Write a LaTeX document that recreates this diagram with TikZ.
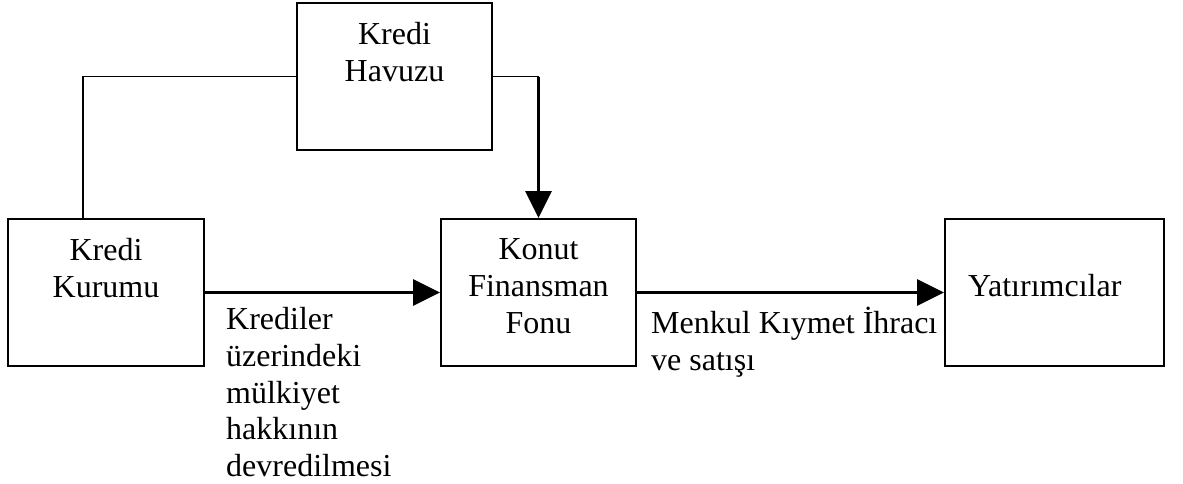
\documentclass[tikz,border=0pt]{standalone}
\usepackage{fontspec}
\setmainfont{Liberation Serif}
\usetikzlibrary{arrows.meta}

\tikzset{
  box/.style={draw=black, line width=2pt, fill=none, rectangle, inner sep=0pt},
  boxtext/.style={inner sep=0pt, align=center, anchor=north,
    font=\fontsize{32}{36.8}\selectfont},
  lbltext/.style={inner sep=0pt, align=left, anchor=north west,
    font=\fontsize{32}{36.8}\selectfont},
  link/.style={line width=1.8pt, line cap=rect},
  flow/.style={line width=3pt, -{Triangle[length=27pt,width=26pt]}},
}

\begin{document}
\begin{tikzpicture}[x=1pt, y=-1pt]
  \useasboundingbox (0,0) rectangle (1183,483);

  % boxes
  \node[box, minimum width=195pt, minimum height=147pt] (havuzu) at (394.5,76.5) {};
  \node[box, minimum width=196pt, minimum height=147pt] (kurumu) at (106,292.5) {};
  \node[box, minimum width=195pt, minimum height=147pt] (konut)  at (538.5,292.5) {};
  \node[box, minimum width=219pt, minimum height=147pt] (yatirim) at (1054.5,292.5) {};

  % box texts
  \node[boxtext] (havuzu-t) at (394.5,22.5) {Kredi\\Havuzu};
  \node[boxtext] (kurumu-t) at (106,238.5) {Kredi\\Kurumu};
  \node[boxtext] (konut-t)  at (538.5,238.5) {Konut\\Finansman\\Fonu};
  \node[inner sep=0pt, anchor=base west, font=\fontsize{32}{36.8}\selectfont]
    (yatirim-t) at (968,296) {Yatırımcılar};

  % flow labels
  \node[lbltext] (devir) at (226,307) {Krediler\\üzerindeki\\mülkiyet\\hakkının\\devredilmesi};
  \node[lbltext] (ihrac) at (651,307) {Menkul Kıymet İhracı\\ve satışı};

  % pool connectors
  \coordinate (kurumu-top) at ([xshift=-23pt]kurumu.north);
  \coordinate (bend) at (havuzu.east -| konut.north);
  \draw[link] (kurumu-top) |- (havuzu.west);
  \draw[link] (havuzu.east) -- (bend);
  \draw[flow] (bend) -- (konut.north);

  % main flow
  \draw[flow] (kurumu.east) -- (konut.west);
  \draw[flow] (konut.east) -- (yatirim.west);
\end{tikzpicture}
\end{document}
